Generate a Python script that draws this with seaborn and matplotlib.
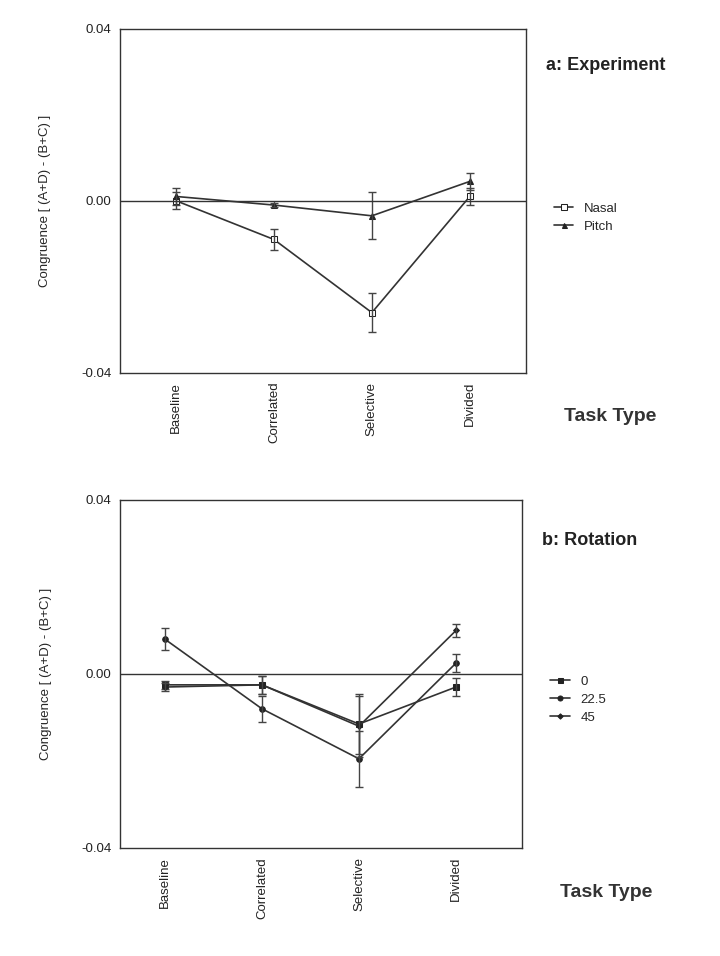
"""
    Congruence effect by task type: (a) experiment, (b) rotation.
    Redrawn from a scanned figure with seaborn line plots + error bars.
"""

import pandas as pd
import seaborn as sns
from matplotlib import pyplot as plt

tasks = ["Baseline", "Correlated", "Selective", "Divided"]

nasal = [0.000, -0.009, -0.026, 0.001]
nasal_err = [0.002, 0.0025, 0.0045, 0.002]
pitch = [0.001, -0.001, -0.0035, 0.0045]
pitch_err = [0.002, 0.0005, 0.0055, 0.002]

rot_0 = [-0.0025, -0.0025, -0.0115, -0.003]
rot_0_err = [0.001, 0.002, 0.007, 0.002]
rot_22 = [0.008, -0.008, -0.0195, 0.0025]
rot_22_err = [0.0025, 0.003, 0.0065, 0.002]
rot_45 = [-0.003, -0.0025, -0.012, 0.010]
rot_45_err = [0.001, 0.002, 0.007, 0.0015]

yticks = [-0.04, 0.00, 0.04]
ylabel = "Congruence [ (A+D) - (B+C) ]"


def draw_panel(ax, series, xlim, title, title_y, legend_y):
    for name, vals, errs, marker, face, size in series:
        df = pd.DataFrame({"task": tasks, "value": vals})
        sns.lineplot(data=df, x="task", y="value", ax=ax, sort=False,
                     color="#333333", linewidth=1.2, marker=marker,
                     markersize=size, markerfacecolor=face,
                     markeredgecolor="#222222", label=name)
        ax.errorbar(range(len(tasks)), vals, yerr=errs, fmt="none",
                    ecolor="#444444", elinewidth=1, capsize=3)
    ax.axhline(0, color="#333333", linewidth=1)
    ax.set_ylim(-0.04, 0.04)
    ax.set_xlim(*xlim)
    ax.set_yticks(yticks)
    ax.set_yticklabels(["-0.04", "0.00", "0.04"], fontsize=9.5)
    ax.set_xticks(range(len(tasks)))
    ax.set_xticklabels(tasks, rotation=90, fontsize=9.5)
    ax.tick_params(axis="both", direction="out", length=3, width=0.8,
                   colors="#222222")
    ax.set_xlabel("")
    ax.set_ylabel(ylabel, fontsize=9.5)
    ax.yaxis.set_label_coords(-0.17, 0.5)
    for s in ax.spines.values():
        s.set_color("#333333")
        s.set_linewidth(1)
    ax.text(1.05, title_y, title, transform=ax.transAxes, fontsize=13,
            fontweight="bold", color="#222222")
    ax.text(1.095, -0.14, "Task Type", transform=ax.transAxes, fontsize=14,
            fontweight="bold", color="#333333")
    ax.legend(loc="upper left", bbox_to_anchor=(1.04, legend_y),
              frameon=False, fontsize=9.5, handlelength=1.5,
              labelspacing=0.45, markerscale=0.9)


def makeplot():
    sns.set_style("white")
    plt.rcParams["font.family"] = ["Liberation Sans", "DejaVu Sans"]

    fig = plt.figure(figsize=(7.2, 9.56), dpi=100)
    ax_a = fig.add_axes([0.167, 0.61, 0.563, 0.36])
    ax_b = fig.add_axes([0.167, 0.113, 0.558, 0.364])

    draw_panel(ax_a,
               [("Nasal", nasal, nasal_err, "s", "white", 5),
                ("Pitch", pitch, pitch_err, "^", "#222222", 4)],
               (-0.57, 3.57), "a: Experiment", 0.88, 0.53)
    draw_panel(ax_b,
               [("0", rot_0, rot_0_err, "s", "#222222", 4),
                ("22.5", rot_22, rot_22_err, "o", "#222222", 4),
                ("45", rot_45, rot_45_err, "D", "#222222", 3)],
               (-0.46, 3.68), "b: Rotation", 0.87, 0.53)

    fig.savefig("out.png", dpi=100)


def main():
    makeplot()


if __name__ == "__main__":
    main()
